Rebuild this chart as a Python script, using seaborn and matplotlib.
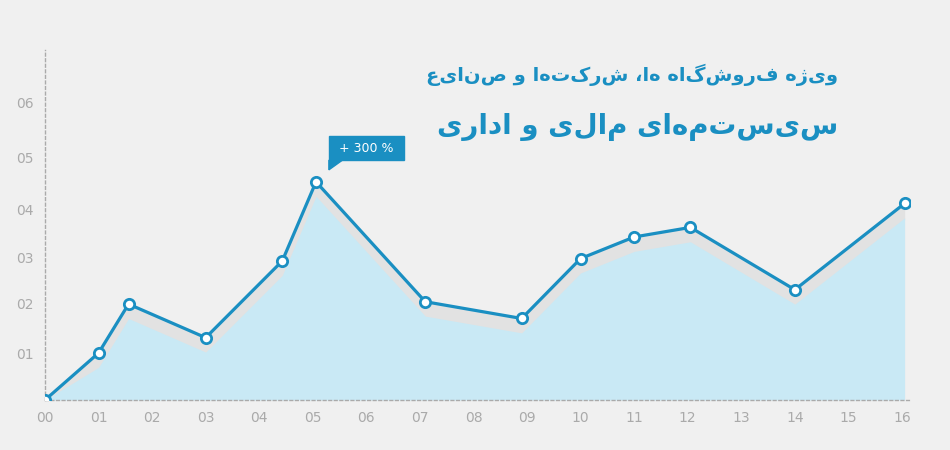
import matplotlib
matplotlib.use("Agg")
import matplotlib.pyplot as plt
import seaborn as sns
import numpy as np
from matplotlib.patches import Polygon

x_vals = [0, 1, 1.56, 3.0, 4.43, 5.06, 7.1, 8.9, 10.0, 11.0, 12.05, 14.0, 16.05]
y_vals = [0.0, 0.98, 2.0, 1.3, 2.9, 4.55, 2.05, 1.7, 2.95, 3.4, 3.6, 2.3, 4.1]
x_labels = ["00","01","02","03","04","05","06","07","08","09","10","11","12","13","14","15","16"]
y_labels = ["01","02","03","04","05","06"]
y_ticks = [0.98, 2.02, 2.98, 3.98, 5.05, 6.2]
title1 = "ویژه فروشگاه ها، شرکت‌ها و صنایع"
title2 = "سیستم‌های مالی و اداری"
badge = "+ 300 %"

sns.set_theme(style="white")
plt.rcParams['font.family'] = ['DejaVu Sans']
bg = "#f0f0f0"
fig = plt.figure(figsize=(9.5, 4.5), dpi=100, facecolor=bg)
ax = fig.add_axes([45/950, 50/450, (910-45)/950, (400-50)/450], facecolor=bg)
ax.set_xlim(0, 16.15)
ax.set_ylim(0, 7.3)

xs = np.array(x_vals); ys = np.array(y_vals)
ax.fill_between(xs, ys, np.maximum(ys - 0.35, 0), color="#e2e2e2", zorder=1, lw=0)
ax.fill_between(xs, 0, np.maximum(ys - 0.3, 0), color="#c9e9f5", zorder=2, lw=0)
sns.lineplot(x=xs, y=ys, ax=ax, color="#1a8fc2", lw=2.3, zorder=3, sort=False)
ax.scatter(xs, ys, s=55, facecolor="white", edgecolor="#1a8fc2", lw=2, zorder=4)

ax.set_xticks(range(17)); ax.set_xticklabels(x_labels)
ax.set_yticks(y_ticks); ax.set_yticklabels(y_labels)
ax.tick_params(colors="#aaaaaa", labelsize=10, length=0, pad=8)
for s in ["top", "right"]:
    ax.spines[s].set_visible(False)
for s in ["left", "bottom"]:
    ax.spines[s].set_color("#aaaaaa"); ax.spines[s].set_linestyle((0, (2, 2))); ax.spines[s].set_linewidth(1)
ax.spines["left"].set_bounds(0, 7.3)

bx0, bx1 = 5.3, 6.7
ax.add_patch(Polygon([[bx0, 5.0], [bx1, 5.0], [bx1, 5.5], [bx0, 5.5]], closed=True, color="#1a8fc2", zorder=5))
ax.add_patch(Polygon([[bx0, 5.0], [bx0 + 0.25, 5.0], [bx0, 4.8]], closed=True, color="#1a8fc2", zorder=5))
ax.text((bx0 + bx1) / 2, 5.25, badge, color="white", ha="center", va="center", fontsize=9, zorder=6)

fig.text(838/950, 1 - 75/450, title1[::-1], ha="right", va="center", fontsize=14, fontweight="bold", color="#1a8fc2")
fig.text(838/950, 1 - 127/450, title2[::-1], ha="right", va="center", fontsize=20, fontweight="bold", color="#1a8fc2")

fig.savefig("out.png", dpi=100, facecolor=bg)
